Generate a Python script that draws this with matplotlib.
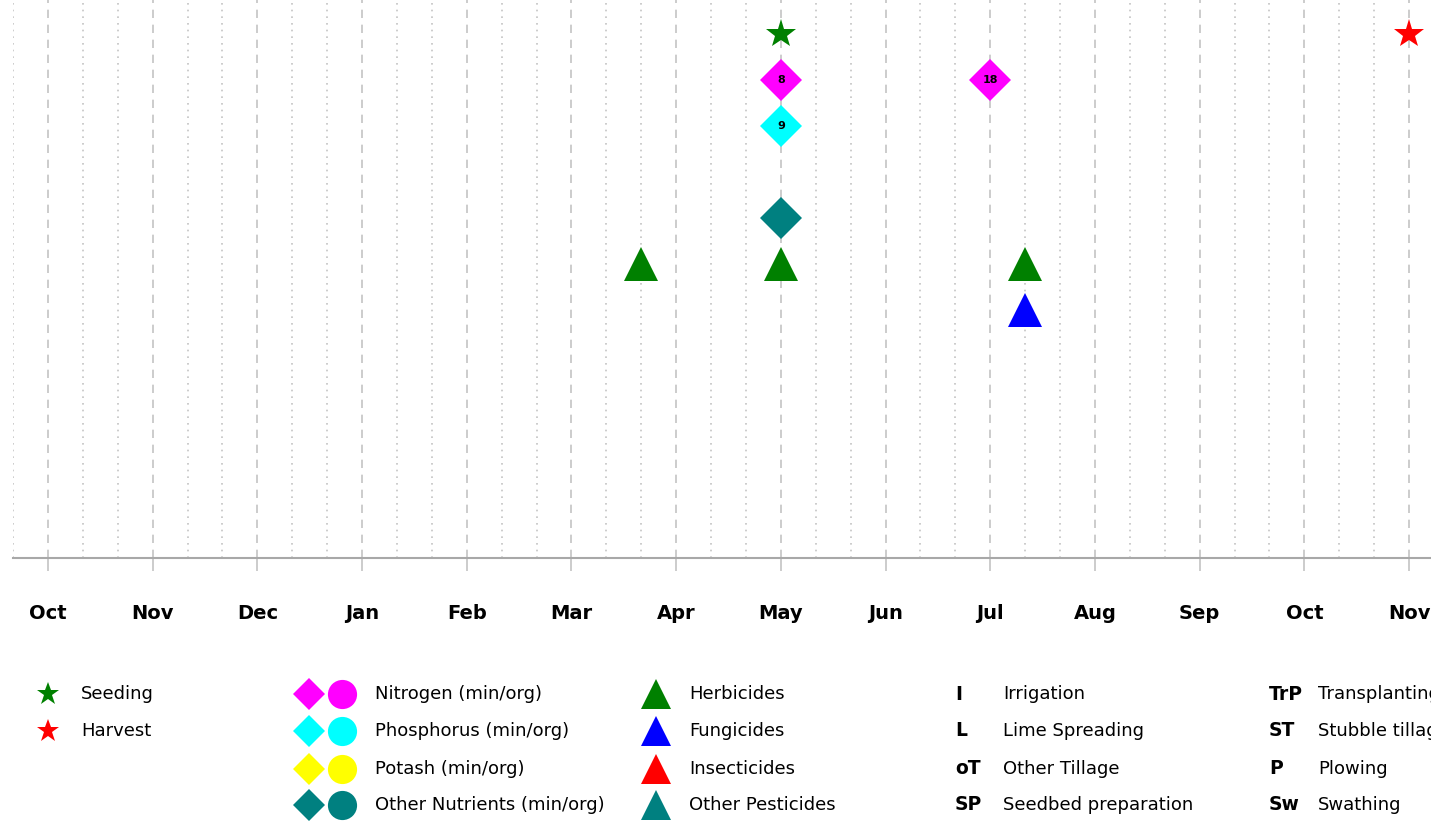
import matplotlib
matplotlib.use('Agg')
import matplotlib.pyplot as plt
import numpy as np

plt.rcParams['font.family'] = 'DejaVu Sans'

# ---------------------------------------------------------------------------
# Data: crop calendar, x in months from the first October (thirds = 10-day)
# ---------------------------------------------------------------------------
month_labels = ['Oct', 'Nov', 'Dec', 'Jan', 'Feb', 'Mar', 'Apr', 'May',
                'Jun', 'Jul', 'Aug', 'Sep', 'Oct', 'Nov']

seeding_x = [7.0]
harvest_x = [13.0]
nitrogen_x = [7.0, 9.0]
nitrogen_amt = ['8', '18']
phosphorus_x = [7.0]
phosphorus_amt = ['9']
other_nutrients_x = [7.0]
herbicides_x = [5 + 2 / 3, 7.0, 9 + 1 / 3]
fungicides_x = [9 + 1 / 3]

# row of each operation (top to bottom)
row_sowing = 0
row_nitrogen = 1
row_phosphorus = 2
row_other_nutr = 4
row_herbicides = 5
row_fungicides = 6

GREEN = '#008000'
RED = '#ff0000'
MAGENTA = '#ff00ff'
CYAN = '#00ffff'
YELLOW = '#ffff00'
TEAL = '#008080'
BLUE = '#0000ff'
GRID = '#c4c4c4'

W, H = 1431, 821
fig = plt.figure(figsize=(W / 100, H / 100), dpi=100)
ax = fig.add_axes([13 / W, (H - 558) / H, (W - 13) / W, 558 / H])

# ---------------------------------------------------------------------------
# Timeline grid
# ---------------------------------------------------------------------------
n_months = len(month_labels)
ax.set_xticks(np.arange(n_months))
ax.set_xticklabels(month_labels, fontsize=14, fontweight='bold')
minor = [m + k / 3 for m in range(-1, n_months) for k in (1, 2)]
ax.set_xticks(minor, minor=True)
ax.set_xlim(-1 / 3, (W - 48) / 104.7)
ax.set_ylim((558 - 34) / 46, -34 / 46)

ax.grid(True, which='major', axis='x', color=GRID, linestyle=(0, (5, 4)), linewidth=1.2)
ax.grid(True, which='minor', axis='x', color=GRID, linestyle=(0, (1, 3)), linewidth=1.2)
ax.tick_params(axis='x', which='major', length=9, width=1.2, color=GRID, pad=24)
ax.tick_params(axis='x', which='minor', length=0)
ax.set_yticks([])
for s in ('top', 'left', 'right'):
    ax.spines[s].set_visible(False)
ax.spines['bottom'].set_color('#a8a8a8')
ax.spines['bottom'].set_linewidth(1.5)

# ---------------------------------------------------------------------------
# Operations
# ---------------------------------------------------------------------------
ax.plot(seeding_x, [row_sowing] * len(seeding_x), '*', color=GREEN, ms=22, mew=0, zorder=5)
ax.plot(harvest_x, [row_sowing] * len(harvest_x), '*', color=RED, ms=22, mew=0,
        zorder=5, clip_on=False)

ax.plot(nitrogen_x, [row_nitrogen] * len(nitrogen_x), 'D', color=MAGENTA, ms=21.5, mew=0, zorder=5)
for x, t in zip(nitrogen_x, nitrogen_amt):
    ax.text(x, row_nitrogen, t, ha='center', va='center', fontsize=8,
            fontweight='bold', zorder=6)

ax.plot(phosphorus_x, [row_phosphorus] * len(phosphorus_x), 'D', color=CYAN, ms=21.5, mew=0, zorder=5)
for x, t in zip(phosphorus_x, phosphorus_amt):
    ax.text(x, row_phosphorus, t, ha='center', va='center', fontsize=8,
            fontweight='bold', zorder=6)

ax.plot(other_nutrients_x, [row_other_nutr] * len(other_nutrients_x), 'D', color=TEAL,
        ms=21.5, mew=0, zorder=5)
ax.plot(herbicides_x, [row_herbicides] * len(herbicides_x), '^', color=GREEN, ms=25, mew=0, zorder=5)
ax.plot(fungicides_x, [row_fungicides] * len(fungicides_x), '^', color=BLUE, ms=25, mew=0, zorder=5)

# ---------------------------------------------------------------------------
# Legend (drawn in pixel coordinates of the figure)
# ---------------------------------------------------------------------------
lg = fig.add_axes([0, 0, 1, 1], facecolor='none')
lg.set_xlim(0, W)
lg.set_ylim(H, 0)
lg.axis('off')

rows_y = [694, 731, 769, 805]
fs = 13

lg.plot(48, rows_y[0], '*', color=GREEN, ms=17, mew=0)
lg.text(81, rows_y[0], 'Seeding', va='center', fontsize=fs)
lg.plot(48, rows_y[1], '*', color=RED, ms=17, mew=0)
lg.text(81, rows_y[1], 'Harvest', va='center', fontsize=fs)

nutrients = ['Nitrogen (min/org)', 'Phosphorus (min/org)', 'Potash (min/org)',
             'Other Nutrients (min/org)']
for y, name, c in zip(rows_y, nutrients, [MAGENTA, CYAN, YELLOW, TEAL]):
    lg.plot(309, y, 'D', color=c, ms=16, mew=0)
    lg.plot(342, y, 'o', color=c, ms=21, mew=0)
    lg.text(375, y, name, va='center', fontsize=fs)

pesticides = ['Herbicides', 'Fungicides', 'Insecticides', 'Other Pesticides']
for y, name, c in zip(rows_y, pesticides, [GREEN, BLUE, RED, TEAL]):
    lg.plot(656, y, '^', color=c, ms=21, mew=0)
    lg.text(689, y, name, va='center', fontsize=fs)

abbr_a = ['I', 'L', 'oT', 'SP']
names_a = ['Irrigation', 'Lime Spreading', 'Other Tillage', 'Seedbed preparation']
for y, a, name in zip(rows_y, abbr_a, names_a):
    lg.text(955, y, a, va='center', fontsize=13.5, fontweight='bold')
    lg.text(1003, y, name, va='center', fontsize=fs)

abbr_b = ['TrP', 'ST', 'P', 'Sw']
names_b = ['Transplanting', 'Stubble tillage', 'Plowing', 'Swathing']
for y, a, name in zip(rows_y, abbr_b, names_b):
    lg.text(1269, y, a, va='center', fontsize=13.5, fontweight='bold')
    lg.text(1318, y, name, va='center', fontsize=fs)

fig.savefig('out.png', dpi=100)
